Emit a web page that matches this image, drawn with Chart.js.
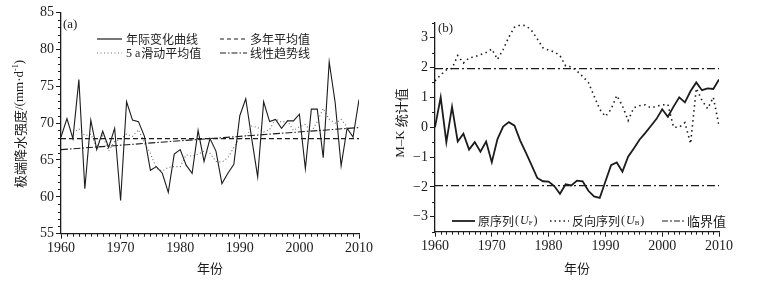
<!DOCTYPE html>
<html><head><meta charset="utf-8">
<script src="https://cdn.jsdelivr.net/npm/chart.js@4.4.0/dist/chart.umd.min.js"></script>
<style>
html,body{margin:0;padding:0;background:#fff;}
#wrap{position:relative;width:772px;height:282px;overflow:hidden;}
.c{position:absolute;top:0;height:282px;width:386px;}
</style></head><body>
<div id="wrap">
<div class="c" style="left:0"><canvas id="ca"></canvas></div>
<div class="c" style="left:386px"><canvas id="cb"></canvas></div>
</div>
<script>
// ---------- data ----------
const years = [1960,1961,1962,1963,1964,1965,1966,1967,1968,1969,
               1970,1971,1972,1973,1974,1975,1976,1977,1978,1979,
               1980,1981,1982,1983,1984,1985,1986,1987,1988,1989,
               1990,1991,1992,1993,1994,1995,1996,1997,1998,1999,
               2000,2001,2002,2003,2004,2005,2006,2007,2008,2009,2010];
// (a) extreme precipitation intensity, mm/d
const intensity = [68.1,70.6,67.9,75.9,61.1,70.4,66.4,68.9,66.7,69.3,
                   59.5,72.9,70.4,70.2,68.2,63.6,64.1,63.2,60.6,65.8,
                   66.4,64.3,63.2,69.0,64.8,67.9,66.2,61.8,63.2,64.4,
                   71.0,73.3,67.9,62.7,72.9,70.2,70.5,69.3,70.3,70.3,
                   71.2,63.8,71.9,71.9,65.3,78.3,72.8,64.2,69.3,68.1,73.2];
// (a) 5-year moving average
const movingAvg5 = [null,null,68.7,69.2,68.3,68.5,66.7,68.3,66.2,67.5,
                    67.8,68.5,68.2,69.1,67.3,65.9,63.9,63.5,64.0,64.1,
                    64.1,65.7,65.5,65.8,66.2,65.9,64.8,64.7,65.3,66.7,
                    68.0,67.9,69.6,69.4,68.8,69.1,70.6,70.1,70.3,69.0,
                    69.5,69.8,68.8,70.2,72.0,70.5,70.0,70.5,69.5,null,null];
const meanYears = [1960, 2010];
const meanValues = [67.9, 67.9];
const trendYears = [1960, 2010];
const trendValues = [66.4, 69.4];
// (b) Mann-Kendall statistics
const ufSeries = [0.0,1.0,-0.5,0.68,-0.48,-0.22,-0.75,-0.5,-0.82,-0.48,
                  -1.17,-0.4,0.02,0.17,0.05,-0.45,-0.85,-1.27,-1.7,-1.81,
                  -1.82,-1.97,-2.23,-1.91,-1.95,-1.79,-1.81,-2.13,-2.32,-2.37,
                  -1.82,-1.27,-1.18,-1.49,-0.99,-0.71,-0.42,-0.2,0.04,0.28,
                  0.6,0.35,0.69,1.0,0.83,1.21,1.5,1.24,1.3,1.28,1.6];
const ubSeries = [1.55,1.75,1.92,1.97,2.4,2.15,2.32,2.36,2.43,2.5,
                  2.62,2.27,2.6,3.02,3.35,3.42,3.4,3.24,2.96,2.66,
                  2.58,2.52,2.4,2.05,2.02,1.88,1.7,1.5,1.05,0.6,
                  0.36,0.6,1.06,0.72,0.22,0.65,0.72,0.75,0.65,0.7,
                  0.75,0.76,0.0,0.0,0.15,-0.55,1.3,0.9,0.62,1.0,0.05];
const critYears = [1960, 2010];
const critUpper = [1.96, 1.96];
const critLower = [-1.96, -1.96];
const xTickLabels = [1960,1970,1980,1990,2000,2010];
const yTicksA = [55,60,65,70,75,80,85];
const yTicksB = [-3,-2,-1,0,1,2,3];

// ---------- helpers ----------
const SERIF = '"Liberation Serif","Times New Roman",serif';
const MIX = '"Liberation Serif","Noto Sans CJK SC",serif';
const CJK = '"Noto Sans CJK SC","Liberation Serif",sans-serif';
const INK = '#1c1c1c';
Chart.defaults.animation = false;
Chart.defaults.color = INK;

function pts(xs, ys){ return xs.map((x,i)=>({x:x, y:ys[i]})).filter(p=>p.y!==null); }
function range(a,b,s){ const r=[]; for(let v=a; v<=b+1e-9; v+=s) r.push(+v.toFixed(4)); return r; }

function drawSeg(ctx, x, y, segs){
  // draws sequence of text segments left-aligned, baseline middle
  ctx.textBaseline = 'middle'; ctx.textAlign = 'left';
  segs.forEach(s=>{
    ctx.font = s.font;
    ctx.fillText(s.t, x, y + (s.dy||0));
    x += ctx.measureText(s.t).width + (s.gap||0);
  });
  return x;
}
function sampleLine(ctx, x1, x2, y, dash, w, color){
  ctx.save(); ctx.beginPath(); ctx.setLineDash(dash); ctx.lineWidth = w; ctx.strokeStyle = color||INK;
  ctx.moveTo(x1, y); ctx.lineTo(x2, y); ctx.stroke(); ctx.restore();
}
function rotatedSegs(ctx, cx, cy, segs){
  ctx.save(); ctx.translate(cx, cy); ctx.rotate(-Math.PI/2);
  let total = 0;
  segs.forEach(s=>{ ctx.font = s.font; total += ctx.measureText(s.t).width; });
  ctx.fillStyle = INK;
  drawSeg(ctx, -total/2, 0, segs);
  ctx.restore();
}

const minorTicks = {
  id:'minorTicks',
  afterDraw(chart, args, o){
    const ctx = chart.ctx, xs = chart.scales.x, ys = chart.scales.y, a = chart.chartArea;
    ctx.save(); ctx.strokeStyle = INK; ctx.lineWidth = 1; ctx.beginPath();
    o.xMinor.forEach(v=>{ const p = Math.round(xs.getPixelForValue(v))+0.5; ctx.moveTo(p, a.bottom); ctx.lineTo(p, a.bottom+o.len); });
    o.yMinor.forEach(v=>{ const p = Math.round(ys.getPixelForValue(v))+0.5; ctx.moveTo(a.left, p); ctx.lineTo(a.left-o.len, p); });
    ctx.stroke(); ctx.restore();
    if (o.texts) { ctx.save(); ctx.fillStyle = INK; o.texts(ctx, chart); ctx.restore(); }
  }
};

function baseScales(xFitH, yFitW, yMin, yMax, yTicks){
  return {
    x: {
      type:'linear', min:1960, max:2010,
      afterBuildTicks: s => { s.ticks = xTickLabels.map(v=>({value:v})); },
      afterFit: s => { s.height = xFitH; },
      ticks:{ font:{family:SERIF, size:14}, color:INK, padding:1, maxRotation:0, autoSkip:false,
              callback: v => String(v) },
      grid:{ display:true, drawOnChartArea:false, drawTicks:true, tickLength:5, color:INK, lineWidth:1 },
      border:{ display:true, color:INK, width:1.3 }
    },
    y: {
      type:'linear', min:yMin, max:yMax,
      afterBuildTicks: s => { s.ticks = yTicks.map(v=>({value:v})); },
      afterFit: s => { s.width = yFitW; },
      ticks:{ font:{family:SERIF, size:14}, color:INK, padding:2,
              callback: v => (v<0 ? '\u2212'+Math.abs(v) : String(v)) },
      grid:{ display:true, drawOnChartArea:false, drawTicks:true, tickLength:5, color:INK, lineWidth:1 },
      border:{ display:true, color:INK, width:1.3 }
    }
  };
}

// ---------- chart (a) ----------
new Chart(document.getElementById('ca'), {
  type:'line',
  data:{ datasets:[
    { data: pts(years, intensity), borderColor:INK, borderWidth:1.1, pointRadius:0, tension:0, order:1 },
    { data: pts(meanYears, meanValues), borderColor:INK, borderWidth:1.1, borderDash:[5,3], pointRadius:0, order:2 },
    { data: pts(years, movingAvg5), borderColor:'#6a6a6a', borderWidth:1.1, borderDash:[1,2.5], pointRadius:0, tension:0, order:3 },
    { data: pts(trendYears, trendValues), borderColor:INK, borderWidth:1.1, borderDash:[7,2,1.5,2], pointRadius:0, order:4 }
  ]},
  options:{
    responsive:true, maintainAspectRatio:false,
    layout:{ padding:{ left:0, top:12.5, right:27, bottom:0 } },
    plugins:{
      legend:{display:false}, tooltip:{enabled:false},
      minorTicks:{
        len:3,
        xMinor: range(1960,2010,1).filter(v=>v%10!==0),
        yMinor: range(55,85,1).filter(v=>v%5!==0),
        texts:(ctx)=>{
          // panel label
          ctx.font = '13px '+SERIF; ctx.textBaseline='middle'; ctx.textAlign='left';
          ctx.fillText('(a)', 63, 24.5);
          // legend
          sampleLine(ctx, 97, 122, 39, [], 1.2);
          drawSeg(ctx, 126, 39.5, [{t:'年际变化曲线', font:'12px '+CJK}]);
          sampleLine(ctx, 220, 247, 39, [4,3], 1.2);
          drawSeg(ctx, 250, 39.5, [{t:'多年平均值', font:'12px '+CJK}]);
          sampleLine(ctx, 97, 122, 53, [1,2.5], 1.1, '#6a6a6a');
          drawSeg(ctx, 126, 53.5, [{t:'5 a', font:'12px '+SERIF, gap:1},{t:'滑动平均值', font:'12px '+CJK}]);
          sampleLine(ctx, 220, 247, 53, [6,2,1.5,2], 1.2);
          drawSeg(ctx, 250, 53.5, [{t:'线性趋势线', font:'12px '+CJK}]);
          // axis titles
          ctx.font = '13px '+CJK; ctx.textAlign='center'; ctx.textBaseline='middle';
          ctx.fillText('年份', 210, 268);
          rotatedSegs(ctx, 20, 124, [
            {t:'极端降水强度', font:'13px '+CJK},
            {t:'/(mm·d', font:'13px '+SERIF},
            {t:'-1', font:'8px '+SERIF, dy:-4},
            {t:')', font:'13px '+SERIF}
          ]);
        }
      }
    },
    scales: baseScales(48.3, 61, 55, 85, yTicksA)
  },
  plugins:[minorTicks]
});

// ---------- chart (b) ----------
new Chart(document.getElementById('cb'), {
  type:'line',
  data:{ datasets:[
    { data: pts(years, ufSeries), borderColor:INK, borderWidth:1.8, pointRadius:0, tension:0 },
    { data: pts(years, ubSeries), borderColor:INK, borderWidth:1.6, borderDash:[1.5,3.5], pointRadius:0, tension:0 },
    { data: pts(critYears, critUpper), borderColor:INK, borderWidth:1.2, borderDash:[8,3,2,3], pointRadius:0 },
    { data: pts(critYears, critLower), borderColor:INK, borderWidth:1.2, borderDash:[8,3,2,3], pointRadius:0 }
  ]},
  options:{
    responsive:true, maintainAspectRatio:false,
    layout:{ padding:{ left:0, top:22.7, right:53, bottom:0 } },
    plugins:{
      legend:{display:false}, tooltip:{enabled:false},
      minorTicks:{
        len:3,
        xMinor: range(1960,2010,1).filter(v=>v%10!==0),
        yMinor: range(-3.5,3.5,0.5).filter(v=>!Number.isInteger(v)),
        texts:(ctx)=>{
          ctx.font = '13px '+SERIF; ctx.textBaseline='middle'; ctx.textAlign='left';
          ctx.fillText('(b)', 52, 29);
          // legend
          const ly = 221;
          sampleLine(ctx, 66, 89, ly, [], 1.8);
          drawSeg(ctx, 92, ly, [
            {t:'原序列', font:'12px '+CJK, gap:1},
            {t:'(', font:'12px '+SERIF, gap:1},
            {t:'U', font:'italic 12px '+SERIF},
            {t:'F', font:'7px '+SERIF, dy:2, gap:1},
            {t:')', font:'12px '+SERIF}
          ]);
          sampleLine(ctx, 164, 183, ly, [1.5,3], 1.6);
          drawSeg(ctx, 186, ly, [
            {t:'反向序列', font:'12px '+CJK, gap:1},
            {t:'(', font:'12px '+SERIF, gap:1},
            {t:'U', font:'italic 12px '+SERIF},
            {t:'B', font:'7px '+SERIF, dy:2, gap:1},
            {t:')', font:'12px '+SERIF}
          ]);
          sampleLine(ctx, 276, 298, ly, [6,2,2,2], 1.2);
          drawSeg(ctx, 301, ly, [{t:'临界值', font:'13px '+CJK}]);
          // axis titles
          ctx.font = '13px '+CJK; ctx.textAlign='center'; ctx.textBaseline='middle';
          ctx.fillText('年份', 191, 268);
          rotatedSegs(ctx, 15, 123, [
            {t:'M\u2013K ', font:'13px '+SERIF},
            {t:'统计值', font:'13px '+CJK}
          ]);
        }
      }
    },
    scales: baseScales(50.3, 49, -3.5, 3.5, yTicksB)
  },
  plugins:[minorTicks]
});
</script>
</body></html>
